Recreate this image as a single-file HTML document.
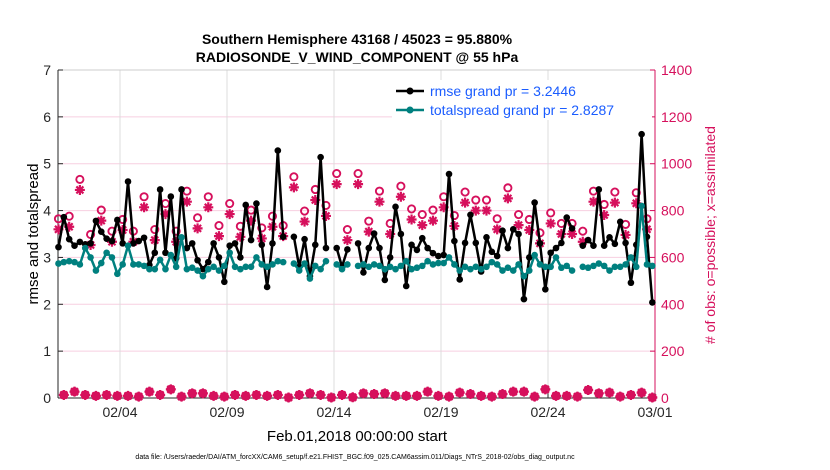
<!DOCTYPE html>
<html><head><meta charset="utf-8"><style>
body{margin:0;background:#fff;font-family:"Liberation Sans",sans-serif}
svg{display:block}
</style></head><body>
<svg id="chart" width="830" height="470" xmlns="http://www.w3.org/2000/svg">
<rect width="830" height="470" fill="#fff"/>
<text x="357" y="44" text-anchor="middle" font-size="14" font-weight="bold">Southern Hemisphere 43168 / 45023 = 95.880%</text>
<text x="357" y="62" text-anchor="middle" font-size="14" font-weight="bold">RADIOSONDE_V_WIND_COMPONENT @ 55 hPa</text>
<g id="grid"></g>
<g id="axes"></g>
<g id="marks"></g>
<text x="357" y="441" text-anchor="middle" font-size="15">Feb.01,2018 00:00:00 start</text>
<text transform="translate(38,234) rotate(-90)" text-anchor="middle" font-size="15">rmse and totalspread</text>
<text transform="translate(715,235) rotate(-90)" text-anchor="middle" font-size="14" fill="#d6105c"># of obs: o=possible; x=assimilated</text>
<text x="355" y="459" text-anchor="middle" font-size="7">data file: /Users/raeder/DAI/ATM_forcXX/CAM6_setup/f.e21.FHIST_BGC.f09_025.CAM6assim.011/Diags_NTrS_2018-02/obs_diag_output.nc</text>
<g id="legend">
<rect x="392" y="80" width="260" height="40" fill="#fff"/>
<line x1="396" y1="91" x2="424" y2="91" stroke="#000" stroke-width="2.5"/>
<circle cx="410" cy="91" r="3.5" fill="#000"/>
<text x="430" y="96" font-size="14" fill="#1a5cff">rmse grand pr = 3.2446</text>
<line x1="396" y1="110" x2="424" y2="110" stroke="#00807f" stroke-width="2.5"/>
<circle cx="410" cy="110" r="3.5" fill="#00807f"/>
<text x="430" y="115" font-size="14" fill="#1a5cff">totalspread grand pr = 2.8287</text>
</g>
</svg>
<script>
const rmse=[3.22,3.86,3.39,3.25,3.33,3.28,3.3,3.78,3.55,3.4,3.35,3.8,3.3,4.62,3.3,3.35,3.42,2.84,3.1,4.45,3.1,4.3,2.98,4.45,3.2,3.3,2.94,2.75,2.9,3.3,3.0,2.48,3.25,3.3,3.0,4.12,3.37,4.15,3.27,2.37,3.3,5.28,3.44,null,3.44,2.8,3.39,2.6,3.27,5.14,3.2,null,3.2,2.8,3.17,null,3.3,2.68,3.2,3.51,3.2,2.52,3.0,4.08,3.5,2.39,3.27,3.16,3.41,3.2,3.09,3.03,3.05,4.78,3.35,2.53,3.31,3.91,3.31,2.7,3.43,3.12,3.03,3.57,3.2,3.6,3.5,2.11,3.0,4.17,3.3,2.32,3.1,3.2,3.31,3.85,3.62,null,3.25,3.37,3.25,4.45,3.25,3.43,3.29,3.76,3.31,2.46,3.27,5.63,3.44,2.04];
const spread=[2.87,2.9,2.92,2.9,2.85,3.2,3.0,2.72,2.88,3.1,3.0,2.65,2.85,3.25,2.85,2.85,2.82,2.75,2.75,2.95,2.75,3.05,2.8,3.43,2.75,2.78,2.72,2.6,2.75,2.8,2.72,2.82,3.1,2.8,2.75,2.8,2.8,3.0,2.85,2.8,2.85,2.92,2.9,null,2.87,2.72,2.87,2.55,2.82,2.75,2.92,null,2.85,2.75,2.85,null,2.82,2.85,2.8,2.85,2.82,2.75,2.8,2.75,2.82,2.92,2.75,2.78,2.82,2.92,2.85,2.88,2.88,3.0,2.85,2.72,2.8,2.75,2.8,2.75,2.8,2.9,2.85,2.72,2.78,2.72,2.85,2.6,2.72,3.05,2.85,2.8,2.8,3.0,2.78,2.82,2.72,null,2.8,2.78,2.82,2.87,2.82,2.72,2.8,2.8,2.85,3.0,2.8,4.1,2.85,2.82];
const assimMain=[720,731,888,653,757,667,717,667,814,674,785,667,838,724,814,691,785,688,757,681,731,691,899,753,845,777,913,674,913,710,838,700,859,762,738,757,814,734,834,800,800,720,852,738,717,660,745,700,700,667,838,781,834,696,831,720];
const assimMinor=[13,27,13,9,13,9,9,6,27,13,37,6,20,20,9,6,13,9,13,9,13,2,13,20,13,2,13,3,20,17,20,9,9,9,27,9,6,23,17,9,6,17,27,27,6,37,9,9,6,34,20,23,6,13,23,2];
const possibleExtra=45;
const yTicks=[0,1,2,3,4,5,6,7];
const rTicks=[0,200,400,600,800,1000,1200,1400];
const xTickDays=[4,9,14,19,24,29];
const xTickLabels=["02/04","02/09","02/14","02/19","02/24","03/01"];
const startDay=1.125, stepDay=0.25;

const L=58,R=655,T=70,B=398;
const xs=d=>55.8+(d-1)*21.4;
const ys=v=>B-v*(B-T)/7;
const yr=n=>B-n*(B-T)/1400;
const NS="http://www.w3.org/2000/svg";
function mk(tag,attrs,parent){const e=document.createElementNS(NS,tag);for(const k in attrs)e.setAttribute(k,attrs[k]);parent.appendChild(e);return e;}
const grid=document.getElementById('grid'),axes=document.getElementById('axes'),marks=document.getElementById('marks');

yTicks.forEach(v=>{if(v>0&&v<7){const g=mk('line',{x1:L,x2:R,y1:ys(v),y2:ys(v),stroke:'#f7cfe0','stroke-width':1},grid);

}});
xTickDays.forEach(d=>{if(d<29){const g=mk('line',{x1:xs(d),x2:xs(d),y1:T,y2:B,stroke:'#dcdcdc','stroke-width':1},grid);

}});
mk('line',{x1:L,x2:R,y1:T,y2:T,stroke:'#ccc','stroke-width':1},axes);
mk('line',{x1:L,x2:L,y1:T,y2:B,stroke:'#262626','stroke-width':1},axes);
mk('line',{x1:L,x2:R,y1:B,y2:B,stroke:'#262626','stroke-width':1},axes);
mk('line',{x1:R,x2:R,y1:T,y2:B,stroke:'#d6105c','stroke-width':1},axes);
yTicks.forEach(v=>{mk('line',{x1:L,x2:L+5,y1:ys(v),y2:ys(v),stroke:'#262626'},axes);
const t=mk('text',{x:L-7,y:ys(v)+5,'text-anchor':'end','font-size':14,fill:'#262626'},axes);t.textContent=v;

});
rTicks.forEach(n=>{mk('line',{x1:R-5,x2:R,y1:yr(n),y2:yr(n),stroke:'#d6105c'},axes);
const t=mk('text',{x:R+6,y:yr(n)+5,'font-size':14,fill:'#d6105c'},axes);t.textContent=n;

});
xTickDays.forEach((d,i)=>{mk('line',{x1:xs(d),x2:xs(d),y1:B-5,y2:B,stroke:'#262626'},axes);
const t=mk('text',{x:xs(d),y:B+19,'text-anchor':'middle','font-size':14,fill:'#262626'},axes);t.textContent=xTickLabels[i];

});

// obs counts
const N=rmse.length;
for(let i=0;i<N;i++){
  const n=(i%2===0)?assimMain[i/2]:assimMinor[(i-1)/2];
  if(n===undefined)continue;
  const x=xs(startDay+i*stepDay);
  const p=n+((i%2===0)?possibleExtra:0);
  const c=mk('circle',{cx:x,cy:yr(p),r:3.6,fill:'none',stroke:'#d6105c','stroke-width':1.9},marks);
  
  
  const y=yr(n),r=5,q=3.5;
  const s=mk('path',{d:`M${x-r} ${y}L${x+r} ${y}M${x} ${y-r}L${x} ${y+r}M${x-q} ${y-q}L${x+q} ${y+q}M${x-q} ${y+q}L${x+q} ${y-q}`,stroke:'#d6105c','stroke-width':2.2,fill:'none'},marks);
  
  
}
function series(arr,color,name){
  let d='',pen=false;
  arr.forEach((v,i)=>{if(v===null){pen=false;return;}const x=xs(startDay+i*stepDay),y=ys(v);d+=(pen?'L':'M')+x.toFixed(1)+' '+y.toFixed(1);pen=true;});
  const p=mk('path',{d:d,fill:'none',stroke:color,'stroke-width':2.5,'stroke-linejoin':'round'},marks);
  
  
  arr.forEach((v,i)=>{if(v===null)return;const c=mk('circle',{cx:xs(startDay+i*stepDay),cy:ys(v),r:3.3,fill:color},marks);
  
  });
}
series(rmse,'#000','rmse');
series(spread,'#00807f','totalspread');
</script>
</body></html>
